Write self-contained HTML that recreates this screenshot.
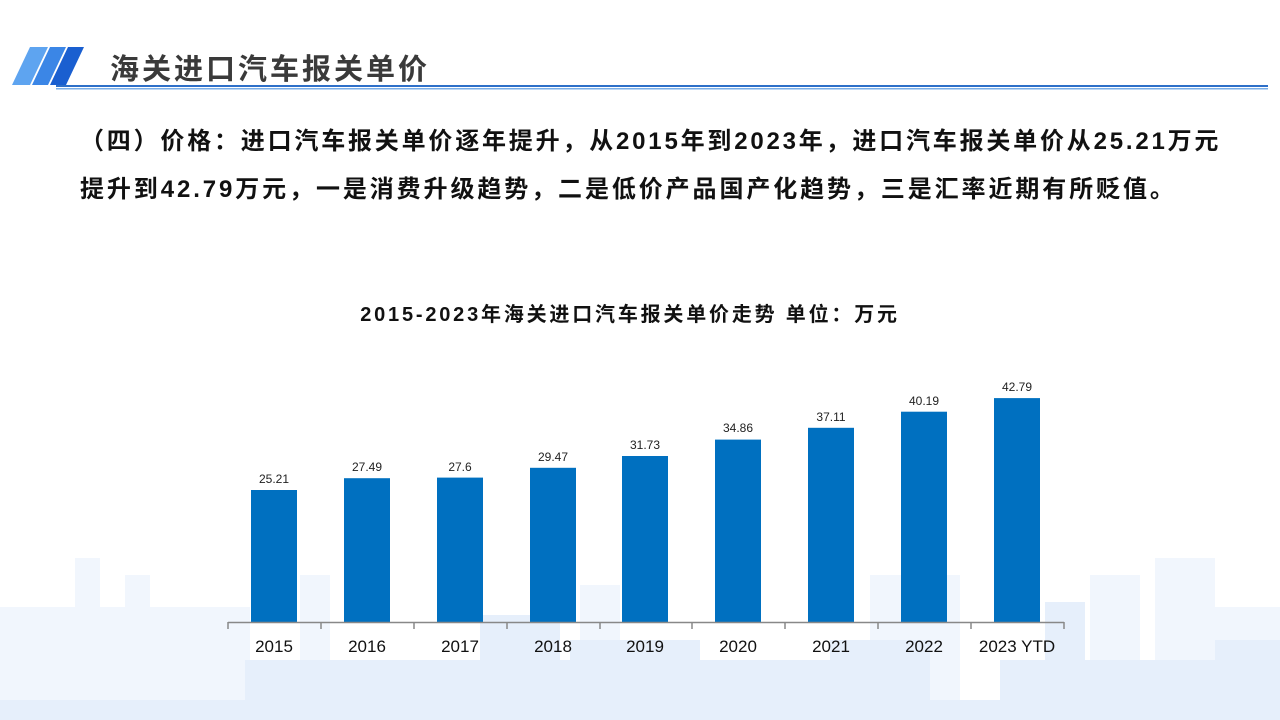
<!DOCTYPE html>
<html><head><meta charset="utf-8"><style>
body{margin:0}
#p{position:relative;width:1280px;height:720px;overflow:hidden;background:#fff;font-family:"Liberation Sans","Noto Sans CJK SC",sans-serif}
.b{position:absolute;background:#e6effb}
.l{position:absolute;background:#f1f6fd}
.t{position:absolute;white-space:nowrap}
</style></head><body><div id="p">
<div class="l" style="left:0;top:607px;width:250px;height:113px"></div>
<div class="l" style="left:75px;top:558px;width:25px;height:162px"></div>
<div class="l" style="left:125px;top:575px;width:25px;height:145px"></div>
<div class="l" style="left:300px;top:575px;width:30px;height:145px"></div>
<div class="l" style="left:580px;top:585px;width:40px;height:135px"></div>
<div class="l" style="left:870px;top:575px;width:90px;height:145px"></div>
<div class="l" style="left:1090px;top:575px;width:50px;height:145px"></div>
<div class="l" style="left:1155px;top:558px;width:60px;height:162px"></div>
<div class="l" style="left:1215px;top:607px;width:65px;height:113px"></div>
<div class="b" style="left:0;top:700px;width:1280px;height:20px"></div>
<div class="b" style="left:245px;top:660px;width:340px;height:60px"></div>
<div class="b" style="left:480px;top:615px;width:80px;height:105px"></div>
<div class="b" style="left:570px;top:640px;width:130px;height:80px"></div>
<div class="b" style="left:700px;top:660px;width:130px;height:60px"></div>
<div class="b" style="left:830px;top:640px;width:100px;height:80px"></div>
<div class="b" style="left:1000px;top:660px;width:280px;height:60px"></div>
<div class="b" style="left:1045px;top:602px;width:40px;height:118px"></div>
<div class="b" style="left:1215px;top:640px;width:65px;height:80px"></div>
<svg style="position:absolute;left:0;top:0" width="1280" height="100">
<polygon points="30,47 48,47 30,85 12,85" fill="#5ea4f0"/>
<polygon points="50,47 66,47 48,85 32,85" fill="#3b86e6"/>
<polygon points="68,47 84,47 66,85 50,85" fill="#1a5fd0"/>
<rect x="56" y="85" width="1212" height="2" fill="#2e6fc8"/>
<rect x="56" y="88" width="1212" height="1.5" fill="#7aaee8"/>
</svg>
<div class="t" style="left:110px;top:46px;font-size:29px;font-weight:bold;color:#3a3a3a;letter-spacing:3px">海关进口汽车报关单价</div>
<div class="t" style="left:80px;top:121px;font-size:24px;font-weight:bold;color:#111;letter-spacing:2.8px">（四）价格：进口汽车报关单价逐年提升，从2015年到2023年，进口汽车报关单价从25.21万元</div>
<div class="t" style="left:80px;top:169px;font-size:24px;font-weight:bold;color:#111;letter-spacing:2.9px">提升到42.79万元，一是消费升级趋势，二是低价产品国产化趋势，三是汇率近期有所贬值。</div>
<div class="t" style="left:0;width:1260px;text-align:center;top:298px;font-size:20px;font-weight:bold;color:#111;letter-spacing:2.8px">2015-2023年海关进口汽车报关单价走势 单位：万元</div>
<svg style="position:absolute;left:0;top:0" width="1280" height="720" font-family="Liberation Sans,sans-serif">
<g fill="#0070c0">
<rect x="251" y="490" width="46" height="132"/>
<rect x="344" y="478.2" width="46" height="143.8"/>
<rect x="437" y="477.6" width="46" height="144.4"/>
<rect x="530" y="467.8" width="46" height="154.2"/>
<rect x="622" y="456" width="46" height="166"/>
<rect x="715" y="439.6" width="46" height="182.4"/>
<rect x="808" y="427.8" width="46" height="194.2"/>
<rect x="901" y="411.7" width="46" height="210.3"/>
<rect x="994" y="398.1" width="46" height="223.9"/>
</g>
<g font-size="12" fill="#222" text-anchor="middle">
<text x="274" y="483">25.21</text><text x="367" y="471">27.49</text><text x="460" y="471">27.6</text>
<text x="553" y="461">29.47</text><text x="645" y="449">31.73</text><text x="738" y="432">34.86</text>
<text x="831" y="421">37.11</text><text x="924" y="405">40.19</text><text x="1017" y="391">42.79</text>
</g>
<g stroke="#888" stroke-width="1.5">
<line x1="228" y1="622.5" x2="1064" y2="622.5"/>
<line x1="228" y1="622" x2="228" y2="629"/><line x1="321" y1="622" x2="321" y2="629"/><line x1="414" y1="622" x2="414" y2="629"/><line x1="507" y1="622" x2="507" y2="629"/><line x1="600" y1="622" x2="600" y2="629"/><line x1="692" y1="622" x2="692" y2="629"/><line x1="785" y1="622" x2="785" y2="629"/><line x1="878" y1="622" x2="878" y2="629"/><line x1="971" y1="622" x2="971" y2="629"/><line x1="1064" y1="622" x2="1064" y2="629"/>
</g>
<g font-size="17" fill="#111" text-anchor="middle">
<text x="274" y="652">2015</text><text x="367" y="652">2016</text><text x="460" y="652">2017</text>
<text x="553" y="652">2018</text><text x="645" y="652">2019</text><text x="738" y="652">2020</text>
<text x="831" y="652">2021</text><text x="924" y="652">2022</text><text x="1017" y="652">2023 YTD</text>
</g>
</svg>
</div></body></html>
